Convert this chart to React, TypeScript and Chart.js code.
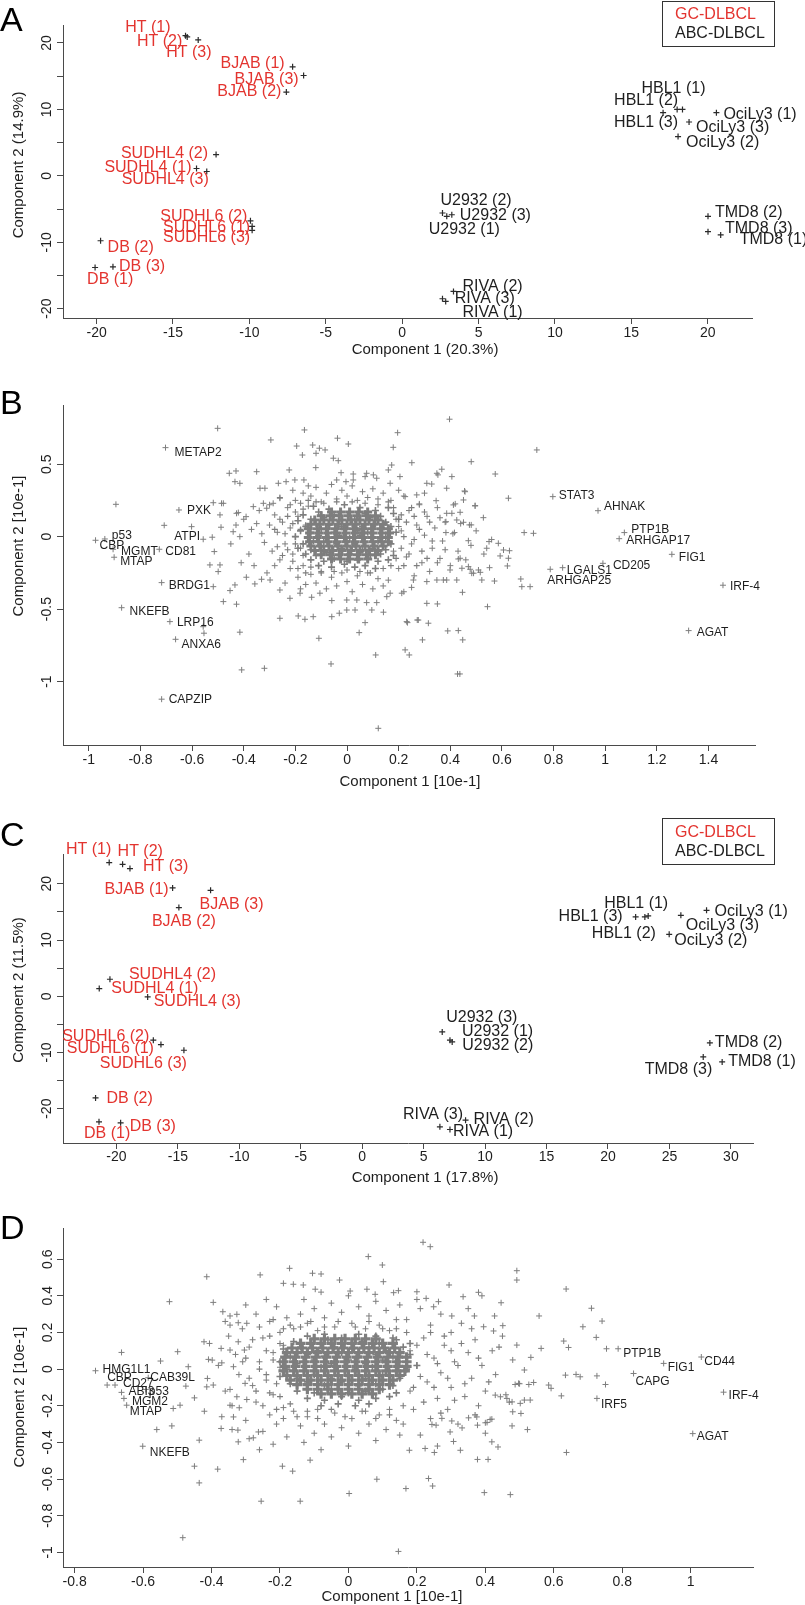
import React, { useEffect, useRef } from 'react';
import { Chart, registerables } from 'chart.js';

Chart.register(...registerables);

const FONT = '"Liberation Sans", Arial, Helvetica, sans-serif';
const RED = '#e3342f';
const INK = '#1e1e1e';
const AXIS = '#4a4a4a';
const MARK = '#2a2a2a';
const GRAY = '#7e7e7e';

// ---------------- Panel A : samples, PCA ----------------
const samplesA = ['HT (1)', 'HT (2)', 'HT (3)', 'BJAB (1)', 'BJAB (3)', 'BJAB (2)', 'SUDHL4 (2)', 'SUDHL4 (1)', 'SUDHL4 (3)', 'SUDHL6 (2)', 'SUDHL6 (1)', 'SUDHL6 (3)', 'DB (2)', 'DB (3)', 'DB (1)', 'HBL1 (1)', 'HBL1 (2)', 'HBL1 (3)', 'OciLy3 (1)', 'OciLy3 (3)', 'OciLy3 (2)', 'U2932 (2)', 'U2932 (3)', 'U2932 (1)', 'TMD8 (2)', 'TMD8 (3)', 'TMD8 (1)', 'RIVA (2)', 'RIVA (3)', 'RIVA (1)'];
const comp1A = [-14.18, -14.07, -13.35, -7.17, -6.45, -7.58, -12.18, -13.46, -12.79, -9.93, -9.82, -9.82, -19.74, -18.93, -20.1, 18.35, 18.0, 17.08, 20.57, 18.78, 18.06, 2.64, 3.25, 2.92, 20.02, 20.02, 20.85, 3.36, 2.85, 2.64];
const comp2A = [21.1, 20.9, 20.45, 16.4, 15.1, 12.6, 3.2, 1.1, 0.65, -6.77, -7.6, -8.2, -9.77, -13.7, -13.8, 10.0, 10.0, 9.5, 9.5, 8.1, 5.9, -5.6, -5.86, -6.1, -6.1, -8.4, -8.9, -17.4, -18.9, -18.5];
const subtypeA = ['GC', 'GC', 'GC', 'GC', 'GC', 'GC', 'GC', 'GC', 'GC', 'GC', 'GC', 'GC', 'GC', 'GC', 'GC', 'ABC', 'ABC', 'ABC', 'ABC', 'ABC', 'ABC', 'ABC', 'ABC', 'ABC', 'ABC', 'ABC', 'ABC', 'ABC', 'ABC', 'ABC'];
const xTicksA = [-20, -15, -10, -5, 0, 5, 10, 15, 20];
const yTicksA = [-20, -15, -10, -5, 0, 5, 10, 15, 20];

// ---------------- Panel C : samples, PCA ----------------
const samplesC = ['HT (1)', 'HT (2)', 'HT (3)', 'BJAB (1)', 'BJAB (3)', 'BJAB (2)', 'SUDHL4 (2)', 'SUDHL4 (1)', 'SUDHL4 (3)', 'SUDHL6 (2)', 'SUDHL6 (1)', 'SUDHL6 (3)', 'DB (2)', 'DB (1)', 'DB (3)', 'HBL1 (1)', 'HBL1 (3)', 'HBL1 (2)', 'OciLy3 (1)', 'OciLy3 (3)', 'OciLy3 (2)', 'U2932 (3)', 'U2932 (1)', 'U2932 (2)', 'TMD8 (2)', 'TMD8 (3)', 'TMD8 (1)', 'RIVA (3)', 'RIVA (2)', 'RIVA (1)'];
const comp1C = [-20.59, -19.5, -18.9, -15.43, -12.34, -14.92, -20.53, -21.4, -17.46, -17.0, -16.38, -14.51, -21.7, -21.42, -19.66, 23.27, 22.25, 23.0, 28.02, 25.93, 24.98, 6.51, 7.14, 7.32, 28.29, 27.75, 29.29, 6.32, 8.41, 7.14];
const comp2C = [23.77, 23.47, 22.7, 19.26, 18.84, 15.77, 3.02, 1.36, -0.12, -7.82, -8.59, -9.6, -18.08, -22.34, -22.52, 14.28, 14.1, 14.1, 15.29, 14.4, 11.02, -6.35, -7.82, -8.12, -8.3, -10.79, -11.68, -23.23, -22.04, -23.7];
const subtypeC = ['GC', 'GC', 'GC', 'GC', 'GC', 'GC', 'GC', 'GC', 'GC', 'GC', 'GC', 'GC', 'GC', 'GC', 'GC', 'ABC', 'ABC', 'ABC', 'ABC', 'ABC', 'ABC', 'ABC', 'ABC', 'ABC', 'ABC', 'ABC', 'ABC', 'ABC', 'ABC', 'ABC'];
const xTicksC = [-20, -15, -10, -5, 0, 5, 10, 15, 20, 25, 30];
const yTicksC = [-20, -15, -10, -5, 0, 5, 10, 15, 20];

// ---------------- Panel B : gene loadings ----------------
const genesB = ['METAP2', 'PXK', 'ATPI', 'p53', 'CBP', 'MGMT', 'CD81', 'MTAP', 'BRDG1', 'NKEFB', 'LRP16', 'ANXA6', 'CAPZIP', 'STAT3', 'AHNAK', 'PTP1B', 'ARHGAP17', 'FIG1', 'CD205', 'LGALS1', 'ARHGAP25', 'IRF-4', 'AGAT'];
const geneLoad1B = [-0.703, -0.651, -0.708, -0.938, -0.974, -0.906, -0.727, -0.902, -0.718, -0.873, -0.686, -0.664, -0.718, 0.797, 0.972, 1.074, 1.054, 1.258, 0.991, 0.835, 0.787, 1.456, 1.323];
const geneLoad2B = [0.614, 0.184, 0.078, -0.016, -0.025, -0.087, -0.087, -0.142, -0.317, -0.49, -0.586, -0.708, -1.121, 0.276, 0.179, 0.028, -0.014, -0.122, -0.184, -0.214, -0.225, -0.335, -0.648];
const xTicksB = [-1, -0.8, -0.6, -0.4, -0.2, 0, 0.2, 0.4, 0.6, 0.8, 1, 1.2, 1.4];
const yTicksB = [-1, -0.5, 0, 0.5];
const cloudOuterB = [
  [-0.501, 0.747], [-0.895, 0.223], [-0.602, 0.069], [-0.557, -0.018], [-0.522, -0.004], [-0.514, -0.103], [-0.531, -0.195], [-0.492, -0.195], [-0.499, -0.241], [-0.518, -0.345], [-0.479, -0.448], [-0.554, -0.666], [-0.415, -0.659], [-0.408, -0.919], [-0.32, -0.908], [-0.26, -0.563], [-0.109, -0.701], [-0.062, -0.878], [0.047, -0.662], [0.111, -0.816], [0.121, -1.322], [0.225, -0.781], [0.241, -0.816], [0.437, -0.947],
  [-0.295, 0.667], [-0.165, 0.736], [-0.037, 0.679], [0.005, 0.639], [0.196, 0.717], [0.179, 0.616], [0.251, 0.51], [-0.195, 0.625], [-0.133, 0.632], [-0.107, 0.61], [-0.173, 0.563], [-0.12, 0.575], [-0.085, 0.598], [-0.053, 0.541], [-0.034, 0.524], [-0.35, 0.448], [-0.456, 0.437], [-0.43, 0.453], [-0.434, 0.379], [-0.415, 0.368], [-0.224, 0.46], [-0.518, 0.234], [-0.479, 0.23], [-0.428, 0.161], [-0.391, 0.138], [-0.363, 0.207], [-0.324, 0.23], [-0.488, 0.065], [-0.441, 0.034], [-0.415, 0.0],
  [0.397, 0.81], [0.735, 0.598], [0.481, 0.517], [0.367, 0.465], [0.352, 0.426], [0.406, 0.414], [0.574, 0.432], [0.309, 0.368], [0.328, 0.363], [0.457, 0.31], [0.451, 0.253], [0.419, 0.226], [0.496, 0.214], [0.625, 0.265], [0.345, 0.248], [0.28, 0.226], [0.27, 0.288], [0.225, 0.276], [0.406, 0.161], [0.438, 0.168], [0.451, 0.099], [0.474, 0.081], [0.528, 0.131], [0.383, 0.103], [0.416, 0.028], [0.383, 0.028], [0.686, 0.028], [0.722, 0.023], [0.47, -0.028], [0.55, -0.034], [0.586, -0.046], [0.541, -0.08], [0.606, -0.092], [0.629, -0.097], [0.593, -0.133], [0.625, -0.149], [0.621, -0.202], [0.431, -0.154], [0.445, -0.218], [0.477, -0.225], [0.483, -0.252], [0.516, -0.246], [0.552, -0.214], [0.399, -0.23], [0.522, -0.299], [0.571, -0.306], [0.673, -0.292], [0.677, -0.345], [0.709, -0.345],
  [0.447, -0.384], [0.309, -0.46], [0.35, -0.464], [0.544, -0.483], [0.234, -0.593], [0.272, -0.575], [0.315, -0.597], [0.39, -0.65], [0.431, -0.648], [0.448, -0.712], [0.292, -0.712], [0.428, -0.947],
  [-0.121, 0.476], [-0.023, 0.441], [0.024, 0.432], [0.076, 0.437], [0.102, 0.426], [0.16, 0.46], [0.173, 0.494], [0.205, 0.414], [0.348, 0.437],
  [-0.04, 0.391], [-0.004, 0.379], [0.024, 0.391], [0.07, 0.414], [0.115, 0.403], [0.167, 0.368],
  [-0.337, 0.334], [-0.318, 0.334], [-0.266, 0.368], [-0.236, 0.379], [-0.202, 0.391], [-0.167, 0.391], [-0.15, 0.35],
  [0.386, 0.334], [0.455, 0.315], [-0.486, 0.23], [-0.492, 0.15], [-0.421, 0.166], [-0.311, 0.196], [-0.286, 0.23], [-0.26, 0.265],
  [0.496, 0.212], [0.412, 0.219], [0.386, 0.161], [0.425, 0.115], [0.481, 0.081], [0.438, -0.149], [0.47, -0.207], [0.509, -0.23], [0.49, -0.252], [0.425, -0.299], [0.373, -0.299],
  [0.07, -0.593], [0.231, -0.586], [0.276, -0.575],
  [-0.189, -0.547], [-0.163, -0.57], [-0.131, -0.552], [-0.059, -0.552], [-0.03, -0.528], [-0.001, -0.506], [0.031, -0.506], [0.096, -0.506], [0.141, -0.521],
  [-0.428, -0.466], [-0.557, -0.621],
  [-0.453, -0.372], [-0.434, -0.333], [-0.357, -0.326], [-0.331, -0.294], [-0.298, -0.299], [-0.26, -0.368], [-0.221, -0.425], [-0.182, -0.39], [-0.137, -0.418], [-0.105, -0.39], [-0.059, -0.441], [-0.001, -0.437], [0.038, -0.437], [0.076, -0.455], [0.115, -0.455], [0.154, -0.414], [0.167, -0.39], [0.212, -0.39], [0.257, -0.299], [0.309, -0.31], [0.348, -0.299], [0.386, -0.299],
];
const cloudMidB = [
  [-0.40, 0.12], [-0.37, 0.05], [-0.35, 0.09], [-0.33, 0.02], [-0.32, -0.04], [-0.30, 0.08], [-0.29, -0.10], [-0.28, 0.15], [-0.27, 0.03], [-0.26, -0.16], [-0.25, 0.10], [-0.24, -0.05], [-0.23, 0.20], [-0.22, -0.22], [-0.22, 0.06], [-0.21, -0.12], [-0.20, 0.25], [-0.20, 0.00], [-0.19, -0.28], [-0.19, 0.14], [-0.18, -0.08], [-0.17, 0.30], [-0.17, -0.20], [-0.16, 0.08], [-0.16, -0.33], [-0.15, 0.21], [-0.38, -0.12], [-0.36, -0.20], [-0.34, 0.18], [-0.31, -0.25], [-0.45, -0.05], [-0.43, 0.08], [-0.41, -0.18], [-0.39, -0.28], [-0.26, 0.27], [-0.24, -0.32], [-0.21, 0.32], [-0.18, -0.36], [-0.28, -0.20], [-0.30, 0.22],
  [0.16, -0.30], [0.17, 0.25], [0.18, -0.10], [0.19, 0.12], [0.20, -0.22], [0.21, 0.04], [0.22, 0.28], [0.23, -0.14], [0.24, 0.18], [0.25, -0.05], [0.26, -0.27], [0.27, 0.08], [0.28, 0.22], [0.29, -0.18], [0.30, 0.01], [0.31, 0.14], [0.32, -0.24], [0.33, -0.08], [0.34, 0.06], [0.35, 0.20], [0.36, -0.15], [0.37, -0.03], [0.38, 0.10], [0.40, -0.20], [0.41, 0.02], [0.43, -0.10], [0.44, 0.09], [0.46, -0.16], [0.48, -0.06], [0.50, 0.04], [0.53, -0.12], [0.56, -0.02], [0.20, 0.32], [0.25, -0.35], [0.30, 0.30], [0.22, -0.38],
  [-0.14, 0.28], [-0.12, 0.34], [-0.10, 0.24], [-0.08, 0.30], [-0.06, 0.36], [-0.04, 0.26], [-0.02, 0.32], [0.00, 0.28], [0.02, 0.35], [0.04, 0.25], [0.06, 0.31], [0.08, 0.27], [0.10, 0.33], [0.12, 0.26], [0.14, 0.30],
  [-0.14, -0.26], [-0.12, -0.32], [-0.10, -0.24], [-0.08, -0.36], [-0.06, -0.28], [-0.04, -0.34], [-0.02, -0.25], [0.00, -0.31], [0.02, -0.38], [0.04, -0.27], [0.06, -0.33], [0.08, -0.25], [0.10, -0.36], [0.12, -0.29], [0.14, -0.34],
];
const cloudRingB = [
  [-0.28, 0.05], [-0.27, -0.07], [-0.26, 0.12], [-0.25, -0.13], [-0.24, 0.02], [-0.23, 0.14], [-0.23, -0.09], [-0.22, 0.22], [-0.21, -0.17], [-0.21, 0.09], [-0.2, -0.05], [-0.2, 0.17], [-0.19, -0.22], [-0.18, 0.05], [-0.18, 0.23], [-0.17, -0.13], [-0.17, 0.19], [-0.16, -0.25], [-0.15, 0.25], [-0.14, -0.21], [-0.12, 0.24], [-0.1, -0.25], [-0.09, 0.23], [-0.05, -0.24], [-0.04, 0.24], [0.0, -0.23], [0.02, 0.24], [0.05, -0.24], [0.07, 0.23], [0.09, -0.25], [0.12, 0.22], [0.14, -0.22], [0.16, 0.24], [0.17, -0.2], [0.18, 0.2], [0.19, -0.15], [0.2, 0.07], [0.21, -0.08], [0.21, 0.15], [0.22, -0.2], [0.22, 0.0], [0.23, 0.1], [0.24, -0.12], [0.25, 0.2], [0.26, -0.02], [0.26, 0.14], [0.27, -0.2], [0.28, 0.05], [0.29, -0.1], [0.3, 0.17], [0.31, -0.15], [0.32, 0.1], [0.33, -0.03], [0.35, -0.18], [0.36, 0.13], [0.38, -0.09],
];
const cloudCoreB = [
  [-0.13, 0.21], [-0.07, 0.19], [-0.01, 0.22], [0.05, 0.2], [0.11, 0.18], [0.16, 0.2],
  [-0.17, 0.15], [-0.11, 0.17], [-0.05, 0.15], [0.01, 0.17], [0.07, 0.16], [0.13, 0.14], [0.18, 0.16],
  [-0.19, 0.11], [-0.14, 0.12], [-0.09, 0.13], [-0.03, 0.11], [0.03, 0.12], [0.09, 0.13], [0.15, 0.1], [0.2, 0.12],
  [-0.16, 0.07], [-0.12, 0.09], [-0.07, 0.08], [-0.02, 0.07], [0.02, 0.09], [0.06, 0.07], [0.11, 0.09], [0.17, 0.07],
  [-0.18, 0.04], [-0.14, 0.03], [-0.1, 0.05], [-0.05, 0.03], [-0.01, 0.05], [0.04, 0.04], [0.08, 0.03], [0.13, 0.05], [0.19, 0.03],
  [-0.2, 0.0], [-0.15, -0.01], [-0.11, 0.01], [-0.07, -0.01], [-0.03, 0.01], [0.01, -0.01], [0.05, 0.01], [0.1, -0.01], [0.15, 0.0],
  [-0.17, -0.05], [-0.13, -0.03], [-0.09, -0.04], [-0.04, -0.05], [0.0, -0.03], [0.03, -0.05], [0.07, -0.04], [0.12, -0.03], [0.17, -0.05],
  [-0.19, -0.08], [-0.14, -0.09], [-0.1, -0.07], [-0.06, -0.09], [-0.02, -0.08], [0.02, -0.07], [0.06, -0.09], [0.1, -0.08], [0.15, -0.09],
  [-0.16, -0.12], [-0.12, -0.13], [-0.08, -0.11], [-0.03, -0.13], [0.01, -0.12], [0.05, -0.11], [0.09, -0.13], [0.13, -0.12], [0.18, -0.13],
  [-0.14, -0.16], [-0.09, -0.17], [-0.05, -0.15], [0.0, -0.17], [0.04, -0.16], [0.08, -0.15], [0.12, -0.17], [0.16, -0.16],
  [-0.11, -0.2], [-0.06, -0.21], [-0.01, -0.19], [0.03, -0.21], [0.07, -0.2], [0.11, -0.22],
];
// densest part of the B cloud, one row per line: [component 2, ...component 1 values]
const denseRowsB = [
  [0.17, -0.06, -0.025, 0.01, 0.045, 0.08],
  [0.145, -0.1, -0.065, -0.03, 0.005, 0.04, 0.075, 0.11],
  [0.115, -0.125, -0.09, -0.055, -0.02, 0.015, 0.05, 0.085, 0.12],
  [0.085, -0.14, -0.105, -0.07, -0.035, 0.0, 0.035, 0.07, 0.105, 0.14],
  [0.055, -0.15, -0.115, -0.08, -0.045, -0.01, 0.025, 0.06, 0.095, 0.13, 0.16],
  [0.025, -0.145, -0.11, -0.075, -0.04, -0.005, 0.03, 0.065, 0.1, 0.135, 0.165],
  [-0.005, -0.15, -0.115, -0.08, -0.045, -0.01, 0.025, 0.06, 0.095, 0.13, 0.16],
  [-0.035, -0.145, -0.11, -0.075, -0.04, -0.005, 0.03, 0.065, 0.1, 0.135, 0.16],
  [-0.065, -0.14, -0.105, -0.07, -0.035, 0.0, 0.035, 0.07, 0.105, 0.14],
  [-0.095, -0.125, -0.09, -0.055, -0.02, 0.015, 0.05, 0.085, 0.12],
  [-0.125, -0.1, -0.065, -0.03, 0.005, 0.04, 0.075, 0.11],
  [-0.155, -0.06, -0.025, 0.01, 0.045, 0.08],
];

// ---------------- Panel D : gene loadings ----------------
const genesD = ['HMG1L1', 'CBP', 'CD27', 'CAB39L', 'ABI3', 'p53', 'MGM2', 'MTAP', 'NKEFB', 'PTP1B', 'FIG1', 'CD44', 'CAPG', 'IRF5', 'IRF-4', 'AGAT'];
const geneLoad1D = [-0.739, -0.705, -0.682, -0.585, -0.663, -0.592, -0.656, -0.648, -0.601, 0.788, 0.921, 1.031, 0.833, 0.726, 1.096, 1.006];
const geneLoad2D = [-0.009, -0.087, -0.087, -0.047, -0.127, -0.111, -0.16, -0.197, -0.421, 0.111, 0.031, 0.066, -0.024, -0.16, -0.126, -0.352];
const xTicksD = [-0.8, -0.6, -0.4, -0.2, 0, 0.2, 0.4, 0.6, 0.8, 1];
const yTicksD = [-1, -0.8, -0.6, -0.4, -0.2, 0, 0.2, 0.4, 0.6];
const cloudOuterD = [
  [-0.414, 0.504], [-0.523, 0.368], [-0.663, 0.091], [-0.549, 0.044], [-0.499, 0.095], [-0.468, 0.013], [-0.475, -0.093], [-0.512, -0.215], [-0.492, -0.197], [-0.516, -0.31], [-0.56, -0.33], [-0.436, -0.388], [-0.45, -0.53], [-0.436, -0.621], [-0.382, -0.546], [-0.484, -0.92], [-0.307, -0.494], [-0.45, -0.157], [-0.421, -0.23], [-0.412, -0.051], [-0.395, -0.087], [-0.414, -0.097], [-0.409, 0.053], [-0.398, 0.049], [-0.422, 0.149], [-0.406, 0.14], [-0.395, 0.364], [-0.367, 0.313], [-0.346, 0.29], [-0.326, 0.299], [-0.346, 0.24], [-0.322, 0.253], [-0.297, 0.25], [-0.372, 0.113], [-0.346, 0.104], [-0.322, 0.149], [-0.304, 0.104], [-0.37, 0.034], [-0.336, 0.013], [-0.309, 0.04],
  [-0.346, -0.111], [-0.326, -0.151], [-0.297, -0.166], [-0.302, -0.078], [-0.346, -0.197], [-0.319, -0.211], [-0.336, -0.261], [-0.372, -0.324], [-0.323, -0.333], [-0.322, -0.397], [-0.278, -0.375], [-0.263, -0.343],
  [-0.255, -0.721], [-0.141, -0.721], [-0.193, -0.53], [-0.163, -0.557], [-0.112, -0.497], [0.002, -0.679], [0.083, -0.601], [0.146, -0.995], [0.168, -0.652], [0.178, -0.443],
  [-0.258, 0.514], [-0.172, 0.55], [-0.105, 0.523], [-0.08, 0.519], [-0.026, 0.486], [0.058, 0.614], [0.099, 0.568], [-0.19, 0.468], [-0.161, 0.463], [-0.132, 0.459], [-0.097, 0.436], [0.005, 0.426], [0.054, 0.436], [0.078, 0.408], [0.102, 0.477], [0.132, 0.417], [0.146, 0.428], [0.2, 0.422],
  [0.218, 0.692], [0.239, 0.668], [0.492, 0.537], [0.492, 0.486], [0.636, 0.437], [0.294, 0.459], [0.227, 0.386], [0.249, 0.34], [0.263, 0.368], [0.335, 0.395], [0.38, 0.419], [0.39, 0.4], [0.446, 0.362], [0.71, 0.332], [0.741, 0.262], [0.685, 0.231], [0.724, 0.173], [0.557, 0.29], [0.302, 0.29], [0.368, 0.29], [0.427, 0.29], [0.451, 0.237], [0.424, 0.208], [0.395, 0.231], [0.629, 0.153], [0.643, 0.118], [0.754, 0.111], [0.563, 0.113], [0.533, 0.064], [0.492, 0.131], [0.634, -0.033], [0.665, -0.029], [0.677, -0.042], [0.726, -0.037], [0.751, -0.084], [0.622, -0.146], [0.585, -0.087], [0.592, -0.105], [0.514, -0.005], [0.527, -0.084], [0.541, -0.073], [0.487, -0.084], [0.497, -0.078], [0.514, -0.169], [0.531, -0.169], [0.478, -0.179], [0.502, -0.187], [0.463, -0.16], [0.444, -0.151], [0.429, -0.142], [0.48, -0.233], [0.504, -0.242], [0.523, -0.33], [0.478, -0.31], [0.419, -0.273], [0.405, -0.291], [0.377, -0.306], [0.637, -0.455], [0.419, -0.397], [0.437, -0.425], [0.377, -0.493], [0.408, -0.493], [0.327, -0.443], [0.307, -0.395], [0.234, -0.597], [0.246, -0.638], [0.397, -0.674], [0.473, -0.685], [0.224, -0.433], [0.251, -0.455], [0.297, -0.343], [0.332, -0.321], [0.273, -0.269], [0.302, -0.283], [0.244, -0.302], [0.256, -0.306], [0.351, -0.266], [0.375, -0.261], [0.4, -0.293], [0.414, -0.275],
];
const cloudMidD = [
  [-0.38, 0.02], [-0.36, -0.12], [-0.35, 0.18], [-0.34, -0.2], [-0.33, 0.08], [-0.32, -0.03], [-0.31, 0.22], [-0.30, -0.28], [-0.29, 0.12], [-0.28, -0.09], [-0.27, 0.30], [-0.27, -0.18], [-0.26, 0.04], [-0.25, -0.34], [-0.25, 0.17], [-0.24, -0.06], [-0.23, 0.26], [-0.23, -0.25], [-0.22, 0.09], [-0.22, -0.14], [-0.21, 0.34], [-0.21, -0.3], [-0.20, 0.01], [-0.20, 0.2], [-0.19, -0.21], [-0.19, 0.13], [-0.18, -0.37], [-0.18, 0.28], [-0.37, -0.26], [-0.36, 0.26], [-0.3, 0.35], [-0.29, -0.38], [-0.24, 0.38], [-0.22, -0.41], [-0.34, -0.33], [-0.26, -0.44],
  [0.16, -0.3], [0.17, 0.27], [0.18, -0.12], [0.18, 0.1], [0.19, -0.22], [0.2, 0.02], [0.21, 0.33], [0.21, -0.36], [0.22, 0.17], [0.23, -0.07], [0.24, 0.24], [0.24, -0.27], [0.25, 0.06], [0.26, -0.16], [0.27, 0.3], [0.27, -0.02], [0.28, 0.13], [0.29, -0.22], [0.3, 0.2], [0.3, -0.1], [0.31, 0.04], [0.32, -0.3], [0.33, 0.25], [0.34, -0.15], [0.35, 0.09], [0.36, -0.05], [0.37, 0.16], [0.38, -0.2], [0.39, 0.02], [0.4, -0.12], [0.42, 0.1], [0.43, -0.03], [0.45, 0.18], [0.46, -0.14], [0.48, 0.05], [0.5, -0.08], [0.2, 0.38], [0.26, -0.42], [0.35, 0.33], [0.4, -0.35],
  [-0.16, 0.22], [-0.14, 0.3], [-0.13, 0.38], [-0.12, 0.25], [-0.1, 0.33], [-0.09, 0.21], [-0.08, 0.42], [-0.07, 0.28], [-0.05, 0.36], [-0.04, 0.23], [-0.02, 0.31], [0.0, 0.4], [0.01, 0.25], [0.03, 0.34], [0.05, 0.22], [0.06, 0.29], [0.08, 0.37], [0.09, 0.24], [0.11, 0.32], [0.12, 0.21], [0.14, 0.27], [0.15, 0.35],
  [-0.16, -0.23], [-0.14, -0.31], [-0.13, -0.4], [-0.12, -0.26], [-0.1, -0.35], [-0.09, -0.22], [-0.08, -0.44], [-0.07, -0.3], [-0.05, -0.37], [-0.04, -0.24], [-0.02, -0.32], [0.0, -0.42], [0.01, -0.27], [0.03, -0.35], [0.05, -0.23], [0.06, -0.3], [0.08, -0.39], [0.09, -0.25], [0.11, -0.33], [0.12, -0.22], [0.14, -0.28], [0.15, -0.36],
];
const cloudRingD = [
  [-0.3, 0.06], [-0.29, -0.05], [-0.28, 0.16], [-0.27, -0.12], [-0.26, 0.23], [-0.26, 0.0], [-0.25, -0.2], [-0.24, 0.1], [-0.24, -0.03], [-0.23, 0.18], [-0.23, -0.13], [-0.22, 0.05], [-0.22, 0.27], [-0.21, -0.08], [-0.21, -0.22], [-0.2, 0.14], [-0.2, -0.15], [-0.19, 0.22], [-0.19, -0.27], [-0.18, 0.07], [-0.17, 0.24], [-0.17, -0.19], [-0.15, -0.26], [-0.14, 0.23], [-0.12, -0.23], [-0.11, 0.26], [-0.09, -0.27], [-0.07, 0.23], [-0.05, -0.22], [-0.03, 0.26], [-0.01, -0.26], [0.02, 0.23], [0.04, -0.23], [0.06, 0.26], [0.08, -0.27], [0.1, 0.22], [0.12, -0.25], [0.14, 0.22], [0.16, -0.2], [0.17, 0.2], [0.19, -0.1], [0.2, 0.13], [0.21, -0.04], [0.22, -0.18], [0.23, 0.08], [0.24, 0.2], [0.25, -0.1], [0.26, 0.03], [0.27, -0.24], [0.28, 0.18], [0.29, -0.05], [0.3, 0.1], [0.31, -0.17], [0.32, 0.02], [0.33, 0.14], [0.34, -0.08], [0.36, 0.22], [0.37, -0.25], [0.38, 0.06], [0.41, -0.07], [0.44, 0.12], [0.47, -0.18],
];
const cloudCoreD = [
  [-0.12, 0.18], [-0.07, 0.19], [-0.02, 0.17], [0.03, 0.19], [0.08, 0.18], [0.13, 0.17],
  [-0.16, 0.15], [-0.11, 0.14], [-0.06, 0.16], [-0.01, 0.14], [0.04, 0.15], [0.09, 0.14], [0.14, 0.16], [0.18, 0.14],
  [-0.19, 0.11], [-0.14, 0.12], [-0.09, 0.1], [-0.04, 0.12], [0.01, 0.11], [0.06, 0.12], [0.11, 0.1], [0.16, 0.12],
  [-0.17, 0.07], [-0.12, 0.08], [-0.07, 0.07], [-0.02, 0.09], [0.03, 0.07], [0.08, 0.08], [0.13, 0.07], [0.18, 0.08],
  [-0.2, 0.04], [-0.15, 0.03], [-0.1, 0.05], [-0.05, 0.03], [0.0, 0.05], [0.05, 0.03], [0.1, 0.05], [0.15, 0.04], [0.2, 0.02],
  [-0.18, 0.0], [-0.13, -0.01], [-0.08, 0.01], [-0.03, -0.01], [0.02, 0.0], [0.07, 0.01], [0.12, -0.01], [0.17, 0.0],
  [-0.2, -0.04], [-0.15, -0.05], [-0.1, -0.03], [-0.05, -0.05], [0.0, -0.04], [0.05, -0.05], [0.1, -0.03], [0.15, -0.05],
  [-0.17, -0.08], [-0.12, -0.07], [-0.07, -0.09], [-0.02, -0.07], [0.03, -0.09], [0.08, -0.08], [0.13, -0.09],
  [-0.15, -0.12], [-0.1, -0.13], [-0.05, -0.11], [0.0, -0.13], [0.05, -0.12], [0.1, -0.11], [0.14, -0.13],
  [-0.12, -0.16], [-0.07, -0.17], [-0.02, -0.15], [0.03, -0.17], [0.08, -0.16], [0.12, -0.15],
  [-0.08, -0.2], [-0.03, -0.19], [0.02, -0.2], [0.06, -0.19],
];
// densest part of the D cloud, one row per line: [component 2, ...component 1 values]
const denseRowsD = [
  [0.165, -0.1, -0.07, -0.04, -0.01, 0.02, 0.05, 0.08],
  [0.14, -0.14, -0.11, -0.08, -0.05, -0.02, 0.01, 0.04, 0.07, 0.1, 0.13],
  [0.115, -0.165, -0.135, -0.105, -0.075, -0.045, -0.015, 0.015, 0.045, 0.075, 0.105, 0.135],
  [0.09, -0.18, -0.15, -0.12, -0.09, -0.06, -0.03, 0.0, 0.03, 0.06, 0.09, 0.12, 0.15],
  [0.065, -0.185, -0.155, -0.125, -0.095, -0.065, -0.035, -0.005, 0.025, 0.055, 0.085, 0.115, 0.145, 0.17],
  [0.04, -0.19, -0.16, -0.13, -0.1, -0.07, -0.04, -0.01, 0.02, 0.05, 0.08, 0.11, 0.14, 0.17],
  [0.015, -0.185, -0.155, -0.125, -0.095, -0.065, -0.035, -0.005, 0.025, 0.055, 0.085, 0.115, 0.145, 0.17],
  [-0.01, -0.19, -0.16, -0.13, -0.1, -0.07, -0.04, -0.01, 0.02, 0.05, 0.08, 0.11, 0.14, 0.165],
  [-0.035, -0.18, -0.15, -0.12, -0.09, -0.06, -0.03, 0.0, 0.03, 0.06, 0.09, 0.12, 0.15],
  [-0.06, -0.17, -0.14, -0.11, -0.08, -0.05, -0.02, 0.01, 0.04, 0.07, 0.1, 0.13],
  [-0.085, -0.15, -0.12, -0.09, -0.06, -0.03, 0.0, 0.03, 0.06, 0.09, 0.12],
  [-0.11, -0.12, -0.09, -0.06, -0.03, 0.0, 0.03, 0.06, 0.09],
  [-0.135, -0.08, -0.05, -0.02, 0.01, 0.04, 0.07],
];

// ---------------- Layout (label placement: dx, dy in px, align 0=left 1=right) ----------------
const labelPosA = [
  [-15, -8, 1], [-5, 5, 1], [-32, 13, 0], [-8, -3, 1], [-5, 4, 1], [-5, -1, 1], [-8, -1, 1], [-5, -1, 1], [2, 8, 1], [-3, -4, 1], [-2, 1, 1], [-2, 7, 1], [7, 7, 0], [6, 0, 0], [-8, 12, 0],
  [-41, -21, 0], [1, -9, 1], [15, 10, 1], [7, 2, 0], [7, 6, 0], [8, 6, 0], [-2, -12, 0], [8, 1, 0], [-18, 13, 0], [7, -4, 0], [17, -3, 0], [19, 5, 0], [9, -5, 0], [9, -3, 0], [20, 14, 0],
];
const labelPosC = [
  [2, -13, 1], [-5, -13, 0], [13, -2, 0], [-4, 2, 1], [-11, 14, 0], [-27, 14, 0], [19, -5, 0], [12, 0, 0], [6, 5, 0], [-4, -4, 1], [-7, 4, 1], [3, 13, 1], [11, 1, 0], [-15, 12, 0], [9, 4, 0],
  [-44, -12, 0], [-13, 0, 1], [11, 17, 1], [8, 1, 0], [5, 10, 0], [5, 6, 0], [4, -14, 0], [12, -9, 0], [10, 4, 0], [5, 0, 0], [9, 13, 1], [6, 0, 0], [-37, -12, 0], [8, -1, 0], [3, 2, 0],
];
const labelPosB = [
  [9, 5, 0], [8, 1, 0], [10, 11, 0], [7, -3, 0], [4, 5, 0], [8, 2, 0], [6, 2, 0], [6, 4, 0], [7, 3, 0], [8, 4, 0], [7, 1, 0], [6, 5, 0], [7, 1, 0],
  [6, -1, 0], [6, -4, 0], [7, -3, 0], [7, 2, 0], [7, 3, 0], [10, 2, 0], [4, 3, 0], [-3, 11, 0], [7, 1, 0], [8, 2, 0],
];
const labelPosD = [
  [7, -1, 0], [0, -7, 0], [8, -1, 0], [2, 0, 0], [7, -1, 0], [3, 2, 0], [8, 3, 0], [3, 6, 0], [7, 6, 0],
  [5, 5, 0], [4, 4, 0], [3, 5, 0], [2, 8, 0], [4, 6, 0], [5, 4, 0], [4, 3, 0],
];

type LabelSet = { ds: number; names: string[]; colors: string[]; pos: number[][]; size: number };
type Deco = {
  top: number;
  letter: string; letterY: number;
  xTitle: string; xTitleX: number; xTitleY: number;
  yTitle: string; yTitleX: number; yTitleY: number;
  xTickY: number; yTickX: number;
  yLabel: (v: number) => string;
  labels: LabelSet[];
  legend?: { x: number; y: number; w: number; h: number; tx: number; gcY: number; abcY: number };
};

const fmt = (v: number) => String(Math.round(v * 100) / 100);

function decoPlugin(d: Deco) {
  return {
    id: 'deco',
    afterDraw(chart: any) {
      const ctx = chart.ctx as CanvasRenderingContext2D;
      const T = d.top;
      const xs = chart.scales.x;
      const ys = chart.scales.y;
      ctx.save();
      ctx.fillStyle = '#000';
      ctx.font = `34px ${FONT}`;
      ctx.textAlign = 'left';
      ctx.textBaseline = 'middle';
      ctx.fillText(d.letter, 0, d.letterY - T);

      ctx.fillStyle = INK;
      ctx.font = `14px ${FONT}`;
      ctx.textAlign = 'center';
      xs.ticks.forEach((t: any) => ctx.fillText(fmt(t.value), xs.getPixelForValue(t.value), d.xTickY - T));
      ys.ticks.forEach((t: any) => {
        const lab = d.yLabel(t.value);
        if (!lab) return;
        ctx.save();
        ctx.translate(d.yTickX, ys.getPixelForValue(t.value));
        ctx.rotate(-Math.PI / 2);
        ctx.fillText(lab, 0, 0);
        ctx.restore();
      });

      ctx.font = `15px ${FONT}`;
      ctx.fillText(d.xTitle, d.xTitleX, d.xTitleY - T);
      ctx.save();
      ctx.translate(d.yTitleX, d.yTitleY - T);
      ctx.rotate(-Math.PI / 2);
      ctx.fillText(d.yTitle, 0, 0);
      ctx.restore();

      d.labels.forEach((set) => {
        const meta = chart.getDatasetMeta(set.ds);
        ctx.font = `${set.size}px ${FONT}`;
        meta.data.forEach((el: any, i: number) => {
          const p = set.pos[i];
          ctx.fillStyle = set.colors[i];
          ctx.textAlign = p[2] === 1 ? 'right' : 'left';
          ctx.fillText(set.names[i], el.x + p[0], el.y + p[1]);
        });
      });

      if (d.legend) {
        const L = d.legend;
        ctx.strokeStyle = '#333';
        ctx.lineWidth = 1;
        ctx.strokeRect(L.x + 0.5, L.y - T + 0.5, L.w, L.h);
        ctx.font = `16px ${FONT}`;
        ctx.textAlign = 'left';
        ctx.fillStyle = RED;
        ctx.fillText('GC-DLBCL', L.tx, L.gcY - T);
        ctx.fillStyle = INK;
        ctx.fillText('ABC-DLBCL', L.tx, L.abcY - T);
      }
      ctx.restore();
    },
  };
}

function axis(min: number, max: number, ticks: number[], size: number, horizontal: boolean) {
  return {
    type: 'linear',
    min,
    max,
    position: horizontal ? 'bottom' : 'left',
    afterBuildTicks: (s: any) => {
      s.ticks = ticks.map((v) => ({ value: v }));
    },
    afterFit: (s: any) => {
      if (horizontal) s.height = size;
      else s.width = size;
    },
    grid: { display: true, drawOnChartArea: false, drawTicks: true, tickLength: 6, color: AXIS, lineWidth: 1 },
    border: { display: true, color: AXIS, width: 1 },
    ticks: { display: false },
  };
}

const pts = (xs: number[], ys: number[]) => xs.map((x, i) => ({ x, y: ys[i] }));
const pairs = (arr: number[][]) => arr.map((p) => ({ x: p[0], y: p[1] }));
const rows = (arr: number[][]) => arr.flatMap((r) => r.slice(1).map((x) => ({ x, y: r[0] })));

function markSet(data: any[], color: string, radius: number, width: number) {
  return {
    data,
    showLine: false,
    pointStyle: 'cross',
    pointRadius: radius,
    pointHoverRadius: radius,
    pointBorderWidth: width,
    pointBorderColor: color,
    pointBackgroundColor: color,
    borderColor: color,
    backgroundColor: color,
  };
}

function baseConfig(datasets: any[], sx: any, sy: any, padTop: number, padRight: number, deco: Deco) {
  return {
    type: 'scatter',
    data: { datasets },
    options: {
      animation: false,
      responsive: false,
      events: [],
      layout: { padding: { top: padTop, right: padRight, left: 0, bottom: 0 } },
      plugins: { legend: { display: false }, tooltip: { enabled: false } },
      scales: { x: sx, y: sy },
    },
    plugins: [decoPlugin(deco)],
  };
}

const everyTen = (v: number) => (Math.abs(v % 10) < 1e-9 ? fmt(v) : '');

const PANELS = [
  {
    top: 0,
    height: 365,
    make: () =>
      baseConfig(
        [markSet(pts(comp1A, comp2A), MARK, 3, 1.2)],
        axis(-22.2, 22.9, xTicksA, 47, true),
        axis(-21.4, 22.7, yTicksA, 63, false),
        25,
        53,
        {
          top: 0, letter: 'A', letterY: 22,
          xTitle: 'Component 1 (20.3%)', xTitleX: 425, xTitleY: 350,
          yTitle: 'Component 2 (14.9%)', yTitleX: 19, yTitleY: 165,
          xTickY: 333, yTickX: 47, yLabel: everyTen,
          labels: [{ ds: 0, names: samplesA, colors: subtypeA.map((s) => (s === 'GC' ? RED : INK)), pos: labelPosA, size: 16 }],
          legend: { x: 662, y: 1, w: 112, h: 45, tx: 675, gcY: 15, abcY: 33.5 },
        }
      ),
  },
  {
    top: 365,
    height: 430,
    make: () =>
      baseConfig(
        [
          markSet(pairs(cloudOuterB), GRAY, 3, 1),
          markSet(pairs(cloudMidB), GRAY, 3, 1),
          markSet(pairs(cloudRingB), GRAY, 3, 1.1),
          markSet(pairs(cloudCoreB), GRAY, 3.5, 1.6),
          markSet(rows(denseRowsB), GRAY, 4.5, 3),
          markSet(pts(geneLoad1B, geneLoad2B), GRAY, 3, 1),
        ],
        axis(-1.1, 1.58, xTicksB, 50, true),
        axis(-1.437, 0.908, yTicksB, 63, false),
        40,
        50,
        {
          top: 365, letter: 'B', letterY: 405,
          xTitle: 'Component 1 [10e-1]', xTitleX: 410, xTitleY: 782,
          yTitle: 'Component 2 [10e-1]', yTitleX: 19, yTitleY: 546,
          xTickY: 760, yTickX: 47, yLabel: fmt,
          labels: [{ ds: 5, names: genesB, colors: genesB.map(() => INK), pos: labelPosB, size: 12 }],
        }
      ),
  },
  {
    top: 795,
    height: 390,
    make: () =>
      baseConfig(
        [markSet(pts(comp1C, comp2C), MARK, 3, 1.2)],
        axis(-24.35, 31.8, xTicksC, 42, true),
        axis(-26.1, 25.3, yTicksC, 63, false),
        59,
        52,
        {
          top: 795, letter: 'C', letterY: 837,
          xTitle: 'Component 1 (17.8%)', xTitleX: 425, xTitleY: 1178,
          yTitle: 'Component 2 (11.5%)', yTitleX: 19, yTitleY: 990,
          xTickY: 1157, yTickX: 47, yLabel: everyTen,
          labels: [{ ds: 0, names: samplesC, colors: subtypeC.map((s) => (s === 'GC' ? RED : INK)), pos: labelPosC, size: 16 }],
          legend: { x: 662, y: 818, w: 112, h: 46, tx: 675, gcY: 832.7, abcY: 852 },
        }
      ),
  },
  {
    top: 1185,
    height: 420,
    make: () =>
      baseConfig(
        [
          markSet(pairs(cloudOuterD), GRAY, 3, 1),
          markSet(pairs(cloudMidD), GRAY, 3, 1),
          markSet(pairs(cloudRingD), GRAY, 3, 1.1),
          markSet(pairs(cloudCoreD), GRAY, 3.5, 1.6),
          markSet(rows(denseRowsD), GRAY, 5, 3.2),
          markSet(pts(geneLoad1D, geneLoad2D), GRAY, 3, 1),
        ],
        axis(-0.834, 1.182, xTicksD, 38, true),
        axis(-1.08, 0.77, yTicksD, 63, false),
        43,
        52,
        {
          top: 1185, letter: 'D', letterY: 1230,
          xTitle: 'Component 1 [10e-1]', xTitleX: 392, xTitleY: 1597,
          yTitle: 'Component 2 [10e-1]', yTitleX: 20, yTitleY: 1397,
          xTickY: 1582, yTickX: 48, yLabel: fmt,
          labels: [{ ds: 5, names: genesD, colors: genesD.map(() => INK), pos: labelPosD, size: 12 }],
        }
      ),
  },
];

function Panel({ top, height, make }: { top: number; height: number; make: () => any }) {
  const ref = useRef<HTMLCanvasElement>(null);
  useEffect(() => {
    const chart = new Chart(ref.current as HTMLCanvasElement, make());
    return () => chart.destroy();
  }, []);
  return (
    <canvas
      ref={ref}
      width={805}
      height={height}
      style={{ position: 'absolute', left: 0, top, width: 805, height, display: 'block' }}
    />
  );
}

export default function App() {
  useEffect(() => {
    document.body.style.margin = '0';
    document.body.style.background = '#fff';
  }, []);
  return (
    <div style={{ position: 'absolute', left: 0, top: 0, width: 805, height: 1605, background: '#fff', overflow: 'hidden' }}>
      {PANELS.map((p, i) => (
        <Panel key={i} top={p.top} height={p.height} make={p.make} />
      ))}
    </div>
  );
}
